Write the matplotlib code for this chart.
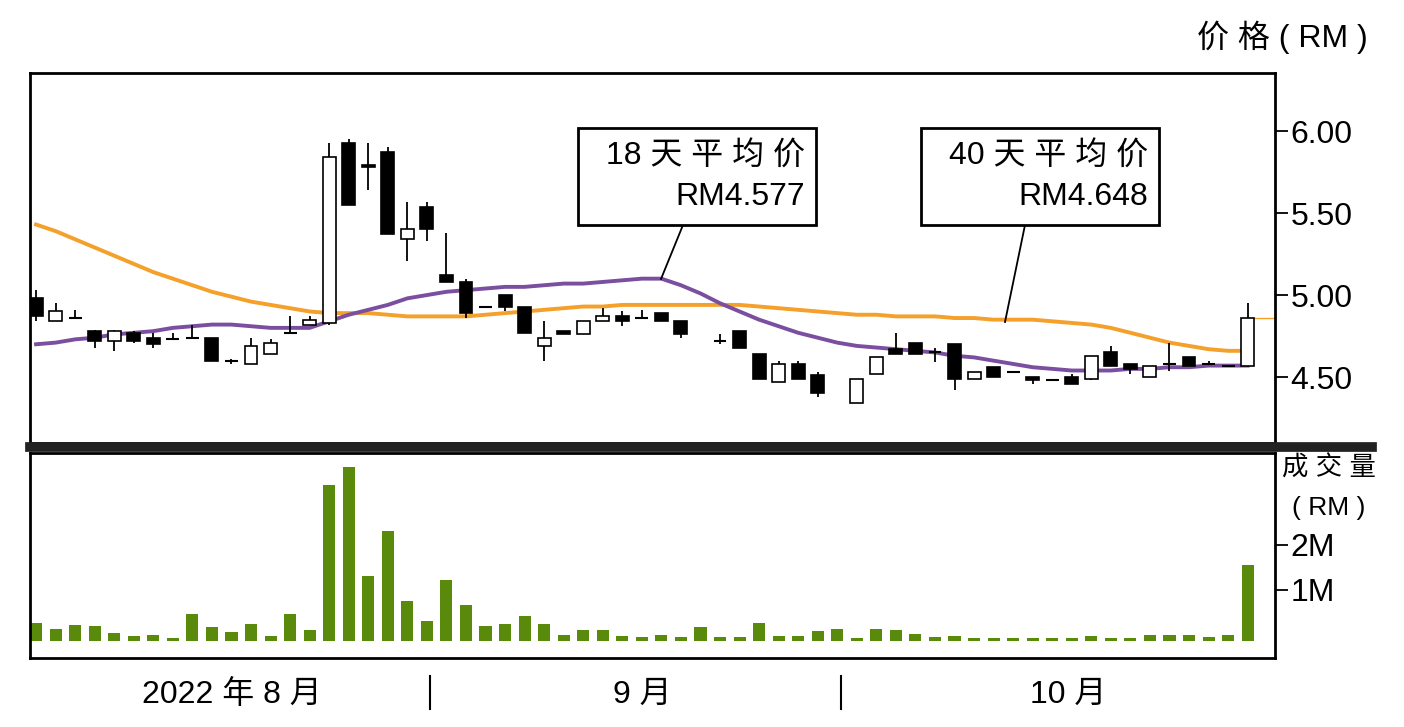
import numpy as np
import matplotlib
matplotlib.use("Agg")
import matplotlib.pyplot as plt
from matplotlib.patches import Rectangle
from matplotlib.lines import Line2D

plt.rcParams['font.family'] = ['Liberation Sans', 'Noto Sans CJK SC', 'DejaVu Sans']

nan = np.nan
# open, high, low, close per trading day
opens = [4.98, 4.84, 4.86, 4.78, 4.72, 4.77, 4.74, 4.73, 4.74, 4.74, 4.60, 4.58, 4.64, 4.77, 4.82, 4.83,
         5.93, 5.79, 5.87, 5.34, 5.54, 5.12, 5.08, 4.93, 5.00, 4.93, 4.69, 4.78, 4.76, 4.84, 4.87, 4.86,
         4.89, 4.84, nan, 4.72, 4.78, 4.64, 4.47, 4.58, 4.51, nan, 4.34, 4.52, 4.67, 4.71, 4.65, 4.70,
         4.49, 4.56, 4.53, 4.50, 4.48, 4.50, 4.49, 4.65, 4.58, 4.50, 4.58, 4.62, 4.58, 4.57, 4.57]
highs = [5.03, 4.95, 4.91, 4.79, 4.79, 4.78, 4.77, 4.77, 4.82, 4.74, 4.61, 4.74, 4.73, 4.87, 4.87, 5.93,
         5.95, 5.93, 5.90, 5.57, 5.57, 5.38, 5.10, 4.93, 5.00, 4.93, 4.84, 4.78, 4.84, 4.92, 4.90, 4.91,
         4.89, 4.84, nan, 4.76, 4.78, 4.64, 4.60, 4.60, 4.53, nan, 4.49, 4.62, 4.77, 4.71, 4.68, 4.70,
         4.53, 4.56, 4.53, 4.50, 4.48, 4.52, 4.63, 4.69, 4.58, 4.57, 4.71, 4.62, 4.60, 4.57, 4.95]
lows = [4.84, 4.84, 4.86, 4.68, 4.66, 4.71, 4.68, 4.73, 4.74, 4.60, 4.58, 4.58, 4.64, 4.77, 4.82, 4.82,
        5.55, 5.64, 5.37, 5.21, 5.33, 5.08, 4.86, 4.93, 4.90, 4.77, 4.60, 4.76, 4.76, 4.84, 4.81, 4.86,
        4.84, 4.74, nan, 4.70, 4.68, 4.49, 4.47, 4.49, 4.38, nan, 4.34, 4.52, 4.64, 4.64, 4.59, 4.42,
        4.49, 4.50, 4.53, 4.46, 4.48, 4.46, 4.48, 4.57, 4.52, 4.50, 4.54, 4.57, 4.58, 4.57, 4.57]
closes = [4.87, 4.90, 4.86, 4.72, 4.78, 4.72, 4.70, 4.73, 4.74, 4.60, 4.60, 4.69, 4.71, 4.77, 4.85, 5.84,
          5.55, 5.78, 5.37, 5.40, 5.40, 5.08, 4.89, 4.93, 4.93, 4.77, 4.74, 4.76, 4.84, 4.87, 4.84, 4.86,
          4.84, 4.76, nan, 4.72, 4.68, 4.49, 4.58, 4.49, 4.40, nan, 4.49, 4.62, 4.64, 4.64, 4.65, 4.49,
          4.53, 4.50, 4.53, 4.48, 4.48, 4.46, 4.63, 4.57, 4.55, 4.57, 4.58, 4.57, 4.58, 4.57, 4.86]

ma18 = [4.70, 4.71, 4.73, 4.74, 4.76, 4.77, 4.78, 4.80, 4.81, 4.82, 4.82, 4.81, 4.80, 4.80, 4.80, 4.84,
        4.88, 4.91, 4.94, 4.98, 5.00, 5.02, 5.03, 5.04, 5.05, 5.05, 5.06, 5.07, 5.07, 5.08, 5.09, 5.10,
        5.10, 5.06, 5.01, 4.95, 4.90, 4.85, 4.81, 4.77, 4.74, 4.71, 4.69, 4.68, 4.67, 4.66, 4.65, 4.63,
        4.62, 4.60, 4.58, 4.56, 4.55, 4.54, 4.54, 4.54, 4.55, 4.55, 4.56, 4.56, 4.57, 4.57, 4.57]
ma40 = [5.43, 5.39, 5.34, 5.29, 5.24, 5.19, 5.14, 5.10, 5.06, 5.02, 4.99, 4.96, 4.94, 4.92, 4.90, 4.89,
        4.89, 4.89, 4.88, 4.87, 4.87, 4.87, 4.87, 4.88, 4.89, 4.90, 4.91, 4.92, 4.93, 4.93, 4.94, 4.94,
        4.94, 4.94, 4.94, 4.94, 4.94, 4.93, 4.92, 4.91, 4.90, 4.89, 4.88, 4.88, 4.87, 4.87, 4.87, 4.86,
        4.86, 4.85, 4.85, 4.85, 4.84, 4.83, 4.82, 4.80, 4.77, 4.74, 4.71, 4.69, 4.67, 4.66, 4.66]

# bar heights above the panel baseline (millions RM)
volume = [0.39, 0.26, 0.35, 0.33, 0.17, 0.10, 0.13, 0.05, 0.59, 0.30, 0.20, 0.37, 0.10, 0.59, 0.24, 3.46,
          3.85, 1.44, 2.44, 0.89, 0.44, 1.34, 0.80, 0.33, 0.37, 0.56, 0.37, 0.13, 0.24, 0.24, 0.10, 0.08,
          0.13, 0.08, 0.30, 0.08, 0.08, 0.39, 0.10, 0.10, 0.21, 0.26, 0.07, 0.26, 0.23, 0.14, 0.08, 0.10,
          0.07, 0.05, 0.05, 0.07, 0.05, 0.05, 0.10, 0.05, 0.05, 0.13, 0.13, 0.13, 0.08, 0.13, 1.69]
vol_base = -0.127

price_ticks = [4.50, 5.00, 5.50, 6.00]
vol_ticks = [1, 2]
vol_labels = ['1M', '2M']
month_labels = ['2022 年 8 月', '9 月', '10 月']
month_centers = [10.0, 31.0, 52.8]
month_bounds = [20.15, 41.2]
ma_notes = [('18 天 平 均 价', 'RM4.577'), ('40 天 平 均 价', 'RM4.648')]

orange = '#f4a02a'
purple = '#7b4fa0'
green = '#5a8a0c'
x = np.arange(len(closes))
xlim = (-0.31, 63.4)
fs = 23

fig = plt.figure(figsize=(14.04, 7.27), dpi=100)
ax = fig.add_axes([30/1404, 1-443/727, 1245/1404, 370/727])
axv = fig.add_axes([30/1404, 1-658/727, 1245/1404, 205/727])

# candles
w = 0.66
for i in x:
    o, h, l, c = opens[i], highs[i], lows[i], closes[i]
    if np.isnan(o):
        continue
    ax.vlines(i, l, h, color='black', lw=1.3, zorder=3)
    if abs(c - o) < 0.005:
        ax.hlines(o, i - w/2, i + w/2, color='black', lw=1.5, zorder=4)
    else:
        fc = 'white' if c > o else 'black'
        ax.add_patch(Rectangle((i - w/2, min(o, c)), w, abs(c - o), facecolor=fc,
                               edgecolor='black', lw=1.2, zorder=4))

ax.plot(x, ma40, color=orange, lw=2.8, zorder=2)
ax.plot(x, ma18, color=purple, lw=2.8, zorder=2)
ax.hlines(closes[-1], 62.3, xlim[1], color=orange, lw=1)

ax.set_xlim(*xlim)
ax.set_ylim(4.098, 6.354)
ax.set_xticks([])
ax.yaxis.tick_right()
ax.set_yticks(price_ticks)
ax.set_yticklabels([f'{t:.2f}' for t in price_ticks])
ax.tick_params(axis='y', direction='out', length=9, width=1.3, labelsize=fs, pad=2)
for s in ax.spines.values():
    s.set_linewidth(2)

# moving average notes
for (t1, t2), bx, (lx0, ly0), (lx1, ly1) in [
        (ma_notes[0], 578, (683, 225), (661, 279)),
        (ma_notes[1], 921, (1025, 225), (1005, 322))]:
    fig.patches.append(Rectangle((bx/1404, 1-225/727), 238/1404, 97/727, transform=fig.transFigure,
                                 facecolor='white', edgecolor='black', lw=2, zorder=10))
    fig.text((bx + 227)/1404, 1-157/727, t1, ha='right', va='center', fontsize=fs, zorder=11)
    fig.text((bx + 227)/1404, 1-197/727, t2, ha='right', va='center', fontsize=fs, zorder=11)
    fig.lines.append(Line2D([lx0/1404, lx1/1404], [1-ly0/727, 1-ly1/727], transform=fig.transFigure,
                            color='black', lw=1.3, zorder=10))

fig.text(1368/1404, 1-37/727, '价 格 ( RM )', ha='right', va='center', fontsize=fs)

# volume
axv.bar(x, volume, bottom=vol_base, width=0.62, color=green)
axv.set_xlim(*xlim)
axv.set_ylim(-0.51, 4.04)
axv.set_xticks([])
axv.yaxis.tick_right()
axv.set_yticks(vol_ticks)
axv.set_yticklabels(vol_labels)
axv.tick_params(axis='y', direction='out', length=9, width=1.3, labelsize=fs, pad=2)
for s in axv.spines.values():
    s.set_linewidth(2)
fig.text(1329/1404, 1-468/727, '成 交 量', ha='center', va='center', fontsize=19)
fig.text(1329/1404, 1-508/727, '( RM )', ha='center', va='center', fontsize=19)

# thick separator between panels
fig.lines.append(Line2D([30/1404, 1372/1404], [1-447/727, 1-447/727], transform=fig.transFigure,
                        color='#222222', lw=7))

# month labels below
for xc, lab in zip(month_centers, month_labels):
    axv.text(xc, -0.18, lab, transform=axv.get_xaxis_transform(), ha='center', va='center', fontsize=fs)
for b in month_bounds:
    axv.plot([b, b], [-0.09, -0.25], transform=axv.get_xaxis_transform(), color='black', lw=1.5,
             clip_on=False)

fig.savefig('out.png', dpi=100)
